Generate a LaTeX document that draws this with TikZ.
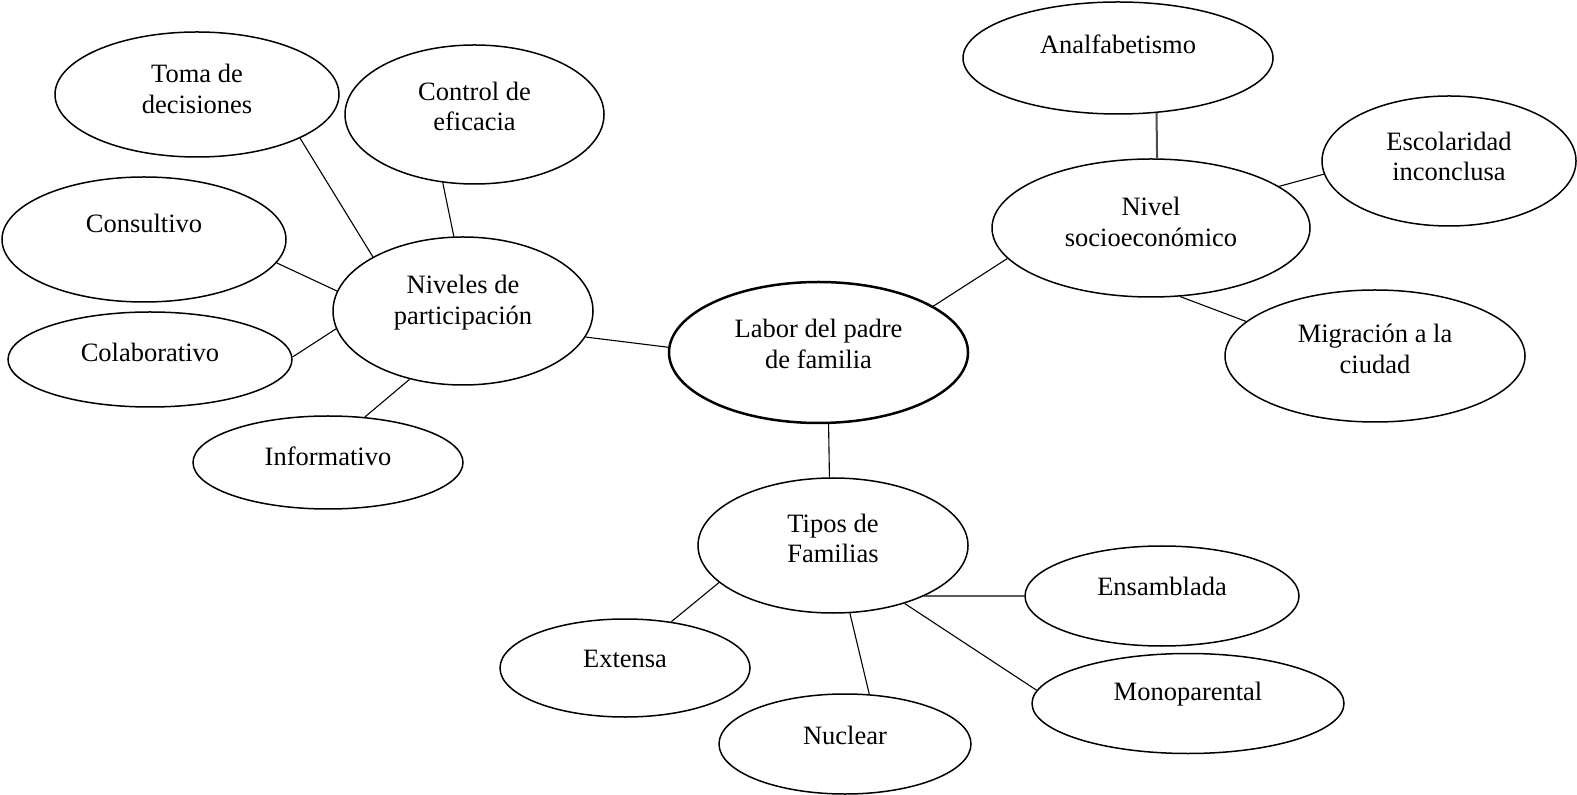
\documentclass[tikz,border=0pt]{standalone}
\usepackage{fontspec}
\setmainfont{Liberation Serif}
\usetikzlibrary{shapes.geometric}
\tikzset{
   mapBubble/.style = {
         ellipse,
         draw,
         inner sep = 0 pt,
         line width = 0.75pt,
      },
   mapCore/.style = {
         mapBubble,
         line width = 1.25pt,
      },
   mapText/.style = {
         align = center,
         inner sep = 0 pt,
         font = \fontsize{13.25pt}{15.25pt}\selectfont,
      },
   mapLine/.style = {
         draw,
         line width = 0.55pt,
      },
}

\begin{document}
\begin{tikzpicture}[x=0.5pt, y=-0.5pt]

\useasboundingbox (0,0) rectangle (1577,795);

% Place nodes
\node [mapCore, minimum width=149.5pt, minimum height=70.5pt,
	label={[mapText, yshift=4.25pt]center:Labor del padre\\de familia}]
	(labor-padre) at (818.5,352.5) {};

\node [mapBubble, minimum width=130pt, minimum height=74pt,
	label={[mapText, yshift=4.25pt]center:Niveles de\\participación}]
	(niveles-participacion) at (463,311) {};
\node [mapBubble, minimum width=142pt, minimum height=62.5pt,
	label={[mapText, yshift=2.75pt]center:Toma de\\decisiones}]
	(toma-decisiones) at (197,94.5) {};
\node [mapBubble, minimum width=129.5pt, minimum height=69.5pt,
	label={[mapText, yshift=4pt]center:Control de\\eficacia}]
	(control-eficacia) at (474.5,114.5) {};
\node [mapBubble, minimum width=142pt, minimum height=62.5pt,
	label={[mapText, yshift=8.25pt]center:Consultivo}]
	(consultivo) at (144,239.5) {};
\node [mapBubble, minimum width=142pt, minimum height=47.5pt,
	label={[mapText, yshift=3.5pt]center:Colaborativo}]
	(colaborativo) at (150,359.5) {};
\node [mapBubble, minimum width=135pt, minimum height=46.5pt,
	label={[mapText, yshift=3.25pt]center:Informativo}]
	(informativo) at (328,462.5) {};

\node [mapBubble, minimum width=159pt, minimum height=69pt,
	label={[mapText, yshift=3pt]center:Nivel\\socioeconómico}]
	(nivel-socioeconomico) at (1151,228) {};
\node [mapBubble, minimum width=155pt, minimum height=56pt,
	label={[mapText, yshift=7pt]center:Analfabetismo}]
	(analfabetismo) at (1118,58) {};
\node [mapBubble, minimum width=127pt, minimum height=65pt,
	label={[mapText, yshift=2.25pt]center:Escolaridad\\inconclusa}]
	(escolaridad) at (1449,161) {};
\node [mapBubble, minimum width=150pt, minimum height=66pt,
	label={[mapText, yshift=3.5pt]center:Migración a la\\ciudad}]
	(migracion) at (1375,356) {};

\node [mapBubble, minimum width=135pt, minimum height=67.5pt,
	label={[mapText, yshift=3.5pt]center:Tipos de\\Familias}]
	(tipos-familias) at (833,545.5) {};
\node [mapBubble, minimum width=125pt, minimum height=49pt,
	label={[mapText, yshift=4.5pt]center:Extensa}]
	(extensa) at (625,668) {};
\node [mapBubble, minimum width=126pt, minimum height=50pt,
	label={[mapText, yshift=4.5pt]center:Nuclear}]
	(nuclear) at (845,744) {};
\node [mapBubble, minimum width=137pt, minimum height=50pt,
	label={[mapText, yshift=5pt]center:Ensamblada}]
	(ensamblada) at (1162,596) {};
\node [mapBubble, minimum width=156pt, minimum height=50pt,
	label={[mapText, yshift=4.75pt]center:Monoparental}]
	(monoparental) at (1188,703.5) {};


% Draw edges
\path [mapLine] (toma-decisiones.-23.6) -- (niveles-participacion.149.5);
\path [mapLine] (control-eficacia.-115.1) -- (niveles-participacion.97.9);
\path [mapLine] (consultivo.-10.2) -- (niveles-participacion.171.5);
\path [mapLine] (colaborativo.1) -- (niveles-participacion.-172.3);
\path [mapLine] (informativo.51.2) -- (niveles-participacion.-128.9);

\path [mapLine] (niveles-participacion.-12.2) -- (labor-padre.178.7);
\path [mapLine] (labor-padre.22.5) -- (nivel-socioeconomico.-168.8);
\path [mapLine] (labor-padre.-82.3) -- (tipos-familias.93.2);

\path [mapLine, line width=1pt, black!70] (analfabetismo.-55.8) -- (nivel-socioeconomico.85.9);
\path [mapLine] (escolaridad.-174.2) -- (nivel-socioeconomico.18.7);
\path [mapLine] (migracion.165.5) -- (nivel-socioeconomico.-67.9);

\path [mapLine] (tipos-familias.-162.7) -- (extensa.45);
\path [mapLine] (tipos-familias.-76.1) -- (nuclear.64.8);
\path [mapLine] (tipos-familias.-29) -- (ensamblada.180);
\path [mapLine] (tipos-familias.-39.7) -- (monoparental.175);

\end{tikzpicture}
\end{document}
